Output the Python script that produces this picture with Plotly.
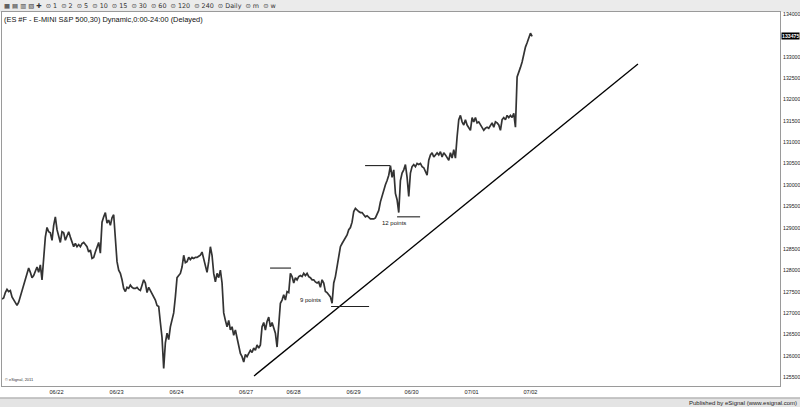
import plotly.graph_objects as go

# ---- price series (30-min closes), ES #F ----
seg_0621_0624 = [127325, 127350, 127475, 127550, 127500, 127525, 127375, 127300, 127225, 127175,
                 127250, 127375, 127525, 127675, 127800, 127875, 128050, 127950, 127825, 127875,
                 128000, 128075, 127950, 128125, 127775, 128250, 128775, 129000, 128900, 128875,
                 128700, 129050, 129250, 128950, 128825, 128650, 128900, 128875, 128700, 128825,
                 128900, 128775, 128650, 128550, 128625, 128550, 128600, 128550, 128625, 128650,
                 128600, 128550, 128425, 128475, 128275, 128300, 128425, 128550, 128650, 128400,
                 129125, 129250, 129350, 129100, 129175, 129050, 129225, 129300, 128700, 128200,
                 128000, 127925, 127775, 127575, 127500, 127600, 127575, 127650]
seg_0624_0627 = [127600, 127575, 127575, 127600, 127550, 127525, 127650, 127775, 127700, 127475,
                 127600, 127525, 127425, 127375, 127300, 127175, 127150, 126775, 126425, 125700,
                 126300, 126525, 126375, 126675, 126825, 127000, 127375, 127825, 127875, 127925,
                 128075, 128350, 128175, 128200, 128300, 128250, 128300, 128275, 128300, 128300,
                 128325, 128350, 128425, 128250, 128075, 127950, 128200, 128550, 128350, 127925,
                 127725, 127925, 127825, 128000, 127700, 127000, 126825, 126675, 126825, 126600,
                 126675, 126475, 126600, 126425, 126300, 126050, 125975, 125850, 126025, 125975,
                 126050, 126125, 126075, 126175, 126125, 126250, 126175, 126250]
seg_0627_0629 = [126675, 126775, 126600, 126800, 126900, 126675, 126775, 126650, 126525, 126200,
                 126675, 127225, 127300, 127425, 127300, 127500, 127475, 127925, 127850, 127700,
                 127825, 127775, 127850, 127875, 127850, 127925, 127875, 127925, 127850, 127825,
                 127775, 127775, 127725, 127700, 127725, 127600, 127775, 127700, 127500, 127475,
                 127425, 127375, 127225, 127700, 127850, 128075, 128300, 128550, 128625, 128700,
                 128775, 128825, 128950, 129000, 129125, 129375, 129450, 129400, 129375, 129350,
                 129350, 129300, 129250, 129275, 129225, 129200, 129200, 129200, 129225, 129300,
                 129400, 129600]
seg_0629_0701 = [129750, 129875, 130000, 130100, 130225, 130450, 130175, 130350, 129800, 129650,
                 129350, 130100, 130275, 130350, 130475, 130175, 129725, 130275, 130425, 130475,
                 130425, 130500, 130475, 130500, 130425, 130400, 130300, 130225, 130575, 130700,
                 130750, 130650, 130700, 130750, 130700, 130775, 130650, 130750, 130700, 130625,
                 130575, 130750, 130625, 130825, 130625, 131125, 131525, 131625, 131475, 131400,
                 131525, 131400, 131325, 131275, 131575, 131475, 131575, 131450, 131475, 131400,
                 131350, 131275, 131325, 131350, 131325, 131400, 131450, 131350, 131475, 131450,
                 131400, 131275, 131525, 131575, 131525, 131625, 131575, 131625, 131575, 131675,
                 131350]
seg_0701_0702 = [132525, 132625, 132750, 132875, 133075, 133225, 133325, 133450, 133550, 133475]

prices = seg_0621_0624 + seg_0624_0627 + seg_0627_0629 + seg_0629_0701 + seg_0701_0702
bars = list(range(len(prices)))
last_price = prices[-1]

# ---- axis labels ----
date_labels = ["06/22", "06/23", "06/24", "06/27", "06/28", "06/29", "06/30", "07/01", "07/02"]
date_bar_pos = [32.7, 68.7, 104.7, 146.4, 174.9, 210.9, 245.7, 281.7, 317.0]
price_ticks = [125500, 126000, 126500, 127000, 127500, 128000, 128500, 129000, 129500,
               130000, 130500, 131000, 131500, 132000, 132500, 133000, 134000]

# ---- drawn annotations (trend line and measured swings) ----
trend_x = [151.2, 381.5]
trend_y = [125525, 132830]
swing9_top_x, swing9_top_y = [160.8, 173.4], 128050
swing9_bot_x, swing9_bot_y = [197.4, 220.2], 127150
swing12_top_x, swing12_top_y = [217.8, 232.8], 130450
swing12_bot_x, swing12_bot_y = [237.0, 250.8], 129250

FONT = "Liberation Sans, Arial, sans-serif"

fig = go.Figure()
fig.add_trace(go.Scatter(x=bars, y=prices, mode="lines",
                         line=dict(color="#333333", width=1.7), hoverinfo="skip",
                         showlegend=False))
fig.add_trace(go.Scatter(x=trend_x, y=trend_y, mode="lines",
                         line=dict(color="black", width=1.3), showlegend=False))
for xs, yv in [(swing9_top_x, swing9_top_y), (swing9_bot_x, swing9_bot_y),
               (swing12_top_x, swing12_top_y), (swing12_bot_x, swing12_bot_y)]:
    fig.add_trace(go.Scatter(x=xs, y=[yv, yv], mode="lines",
                             line=dict(color="#222222", width=1.1), showlegend=False))

annotations = [
    dict(x=184.8, y=127300, xref="x", yref="y", text="9 points", showarrow=False,
         font=dict(family=FONT, size=6, color="#111")),
    dict(x=235.2, y=129100, xref="x", yref="y", text="12 points", showarrow=False,
         font=dict(family=FONT, size=6, color="#111")),
    dict(x=0, y=1, xref="paper", yref="paper", xanchor="left", yanchor="top",
         xshift=0, yshift=-1, showarrow=False,
         text="(ES #F - E-MINI S&P 500,30) Dynamic,0:00-24:00 (Delayed)",
         font=dict(family=FONT, size=7.4, color="#111")),
    dict(x=0, y=1, xref="paper", yref="paper", xanchor="left", yanchor="bottom",
         xshift=0, yshift=0, showarrow=False,
         text="▦ ▤ ▥ ▧ ✚  ⊙ 1  ⊙ 2  ⊙ 5  ⊙ 10  ⊙ 15  ⊙ 30  ⊙ 60  ⊙ 120  ⊙ 240  ⊙ Daily  ⊙ m  ⊙ w",
         font=dict(family="DejaVu Sans, sans-serif", size=6.4, color="#333")),
    dict(x=0, y=0, xref="paper", yref="paper", xanchor="left", yanchor="bottom",
         xshift=1, yshift=2, showarrow=False, text="© eSignal, 2011",
         font=dict(family=FONT, size=4, color="#333")),
    dict(x=1, y=0, xref="paper", yref="paper", xanchor="right", yanchor="top",
         xshift=19, yshift=-12, showarrow=False,
         text="Published by eSignal (www.esignal.com)",
         font=dict(family=FONT, size=6, color="#222")),
]
# right-hand price scale labels
for v in price_ticks:
    annotations.append(dict(x=1, y=v, xref="paper", yref="y", text=str(v),
                            showarrow=False, xanchor="left", xshift=1,
                            font=dict(family=FONT, size=5.2, color="#222")))
annotations.append(dict(x=1, y=last_price, xref="paper", yref="y", text="<b>%d</b>" % last_price,
                        showarrow=False, xanchor="left", xshift=1, bgcolor="black",
                        font=dict(family=FONT, size=5.2, color="white"), borderpad=0))

shapes = [
    dict(type="rect", xref="paper", yref="paper", x0=-0.01, x1=1.03, y0=1.0, y1=1.04,
         fillcolor="#ebebeb", line=dict(width=0), layer="below"),
    dict(type="rect", xref="paper", yref="paper", x0=-0.01, x1=1.03, y0=-0.032, y1=-0.07,
         fillcolor="#e4e4e4", line=dict(width=0), layer="below"),
    dict(type="line", xref="paper", yref="paper", x0=-0.01, x1=1.03, y0=-0.032, y1=-0.032,
         line=dict(color="#9a9a9a", width=1)),
]

fig.update_layout(
    width=800, height=407,
    margin=dict(l=2, r=20, t=12, b=21, autoexpand=False),
    paper_bgcolor="white", plot_bgcolor="white",
    annotations=annotations, shapes=shapes,
    xaxis=dict(range=[0, 466.7], tickvals=date_bar_pos, ticktext=date_labels,
               showgrid=False, zeroline=False, showline=True, mirror=True,
               linecolor="#9a9a9a", linewidth=1, ticks="", ticklen=0, automargin=False,
               tickfont=dict(family=FONT, size=5.6, color="#222")),
    yaxis=dict(range=[125288, 134047], side="right", tickvals=price_ticks,
               showticklabels=False, automargin=False,
               showgrid=False, zeroline=False, showline=True, mirror=True,
               linecolor="#9a9a9a", linewidth=1, ticks="", ticklen=0),
)

fig.write_html("out.html", config={"displayModeBar": False},
               post_script="document.body.style.margin='0';")
